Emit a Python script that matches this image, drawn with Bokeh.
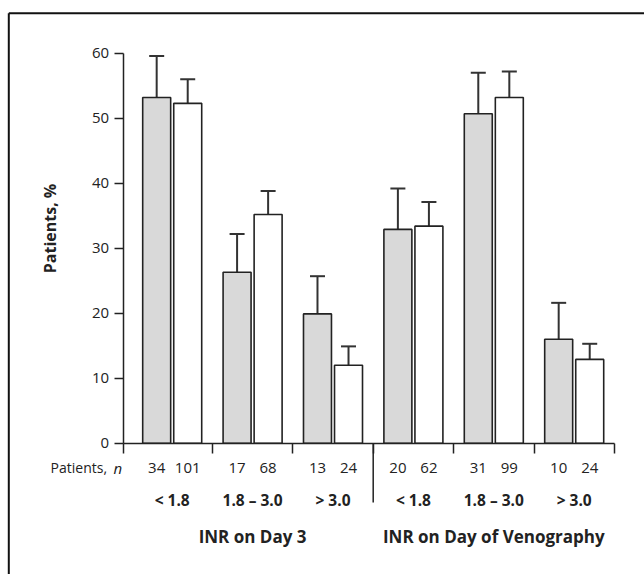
import math
from bokeh.plotting import figure
from bokeh.models import Range1d, LinearAxis, FixedTicker, ColumnDataSource, Whisker, TeeHead
from bokeh.core.properties import value
from bokeh.embed import file_html
from bokeh.resources import INLINE

# ---------------- data ----------------
groups = ["INR on Day 3", "INR on Day of Venography"]
inr_ranges = ["< 1.8", "1.8 – 3.0", "> 3.0", "< 1.8", "1.8 – 3.0", "> 3.0"]
group_index = [0, 0, 0, 1, 1, 1]
gray_pct = [53.2, 26.3, 19.9, 32.9, 50.7, 16.0]
gray_upper = [59.6, 32.2, 25.7, 39.2, 57.0, 21.6]
white_pct = [52.3, 35.2, 12.0, 33.4, 53.2, 12.9]
white_upper = [56.0, 38.8, 14.9, 37.1, 57.2, 15.3]
gray_n = [34, 17, 13, 20, 31, 10]
white_n = [101, 68, 24, 62, 99, 24]
y_ticks = [0, 10, 20, 30, 40, 50, 60]
y_label = "Patients, %"
n_label = "Patients,"
n_symbol = "n"

# ---------------- layout ----------------
W, H = 644, 574
PX_X = 80.4      # px per category
PX_Y = 6.498     # px per percent
X0 = 171.7       # canvas x of first category centre
Y0 = 442.7       # canvas y of 0 %
BAR_W = 0.348
OFF = 0.193
FONT = "Open Sans"
INK = "#222222"


def dx(cx):
    return (cx - X0) / PX_X


def dy(cy):
    return (Y0 - cy) / PX_Y


p = figure(width=W, height=H, output_backend="svg", toolbar_location=None,
           x_range=Range1d(-X0 / PX_X, (W - X0) / PX_X),
           y_range=Range1d(-(H - Y0) / PX_Y, Y0 / PX_Y),
           x_axis_type=None, y_axis_type=None, min_border=0,
           outline_line_color=None, background_fill_color="white",
           border_fill_color="white")

idx = list(range(len(inr_ranges)))
ncat = len(idx)
axis_left = dx(122.7)
boundaries = [i + 0.5 for i in idx]

# outer frame (left and top edges)
top_y = dy(12.7)
left_x = dx(8.3)
p.segment(x0=[left_x, left_x], y0=[top_y, top_y],
          x1=[left_x, p.x_range.end], y1=[p.y_range.start, top_y],
          line_color="#111111", line_width=2)

# axes
yax = LinearAxis(fixed_location=axis_left)
yax.ticker = FixedTicker(ticks=y_ticks)
yax.bounds = (y_ticks[0], y_ticks[-1])
yax.major_tick_in = 0
yax.major_tick_out = 9
yax.minor_tick_line_color = None
yax.axis_line_color = INK
yax.axis_line_width = 1.5
yax.major_tick_line_color = INK
yax.major_tick_line_width = 1.5
yax.major_label_text_font = FONT
yax.major_label_text_font_size = "15px"
yax.major_label_text_color = INK
yax.major_label_standoff = 5
p.add_layout(yax, "left")

xax = LinearAxis(fixed_location=0)
xax.ticker = FixedTicker(ticks=[axis_left] + boundaries)
xax.bounds = (axis_left, boundaries[-1])
xax.major_tick_in = 0
xax.major_tick_out = 10
xax.minor_tick_line_color = None
xax.axis_line_color = INK
xax.axis_line_width = 1.5
xax.major_tick_line_color = INK
xax.major_tick_line_width = 1.5
xax.major_label_text_color = None
xax.major_label_text_font_size = "1px"
p.add_layout(xax, "below")

# group divider
n_first = group_index.count(0)
p.segment(x0=[n_first - 0.5], y0=[0], x1=[n_first - 0.5], y1=[dy(502)],
          line_color=INK, line_width=1.5)

# bars
gx = [i - OFF for i in idx]
wx = [i + OFF for i in idx]
p.vbar(x=gx, top=gray_pct, bottom=0, width=BAR_W, fill_color="#d9d9d9",
       line_color=INK, line_width=1.6)
p.vbar(x=wx, top=white_pct, bottom=0, width=BAR_W, fill_color="white",
       line_color=INK, line_width=1.6)

# error bars
err = ColumnDataSource(dict(x=gx + wx, lower=gray_pct + white_pct,
                            upper=gray_upper + white_upper))
p.add_layout(Whisker(source=err, base="x", lower="lower", upper="upper",
                     dimension="height", line_color="#333333", line_width=2,
                     lower_head=None,
                     upper_head=TeeHead(size=15, line_color="#333333", line_width=2)))

# n row
row_n = dy(467.3)
p.text(x=gx + wx, y=[row_n] * (2 * ncat), text=[str(v) for v in gray_n + white_n],
       text_align="center", text_baseline="middle", text_font=value(FONT),
       text_font_size="15px", text_color=INK)
p.text(x=[dx(106.5)], y=[row_n], text=[n_label], text_align="right",
       text_baseline="middle", text_font=value(FONT), text_font_size="14px",
       text_color=INK)
p.text(x=[dx(121.7)], y=[row_n], text=[n_symbol], text_align="right",
       text_baseline="middle", text_font=value(FONT), text_font_size="15px",
       text_font_style="italic", text_color=INK)

# INR range row
p.text(x=idx, y=[dy(499)] * ncat, text=inr_ranges, text_align="center",
       text_baseline="middle", text_font=value(FONT), text_font_size="15.5px",
       text_font_style="bold", text_color=INK)

# group titles
gcent = []
for g in range(len(groups)):
    members = [i for i in idx if group_index[i] == g]
    gcent.append(sum(members) / len(members))
p.text(x=gcent, y=[dy(535.7)] * len(groups), text=groups, text_align="center",
       text_baseline="middle", text_font=value(FONT), text_font_size="17px",
       text_font_style="bold", text_color=INK)

# y label
p.text(x=[dx(49)], y=[dy(228)], text=[y_label], angle=math.pi / 2,
       text_align="center", text_baseline="middle", text_font=value(FONT),
       text_font_size="16px", text_font_style="bold", text_color=INK)

open("out.html", "w").write(file_html(p, INLINE))
